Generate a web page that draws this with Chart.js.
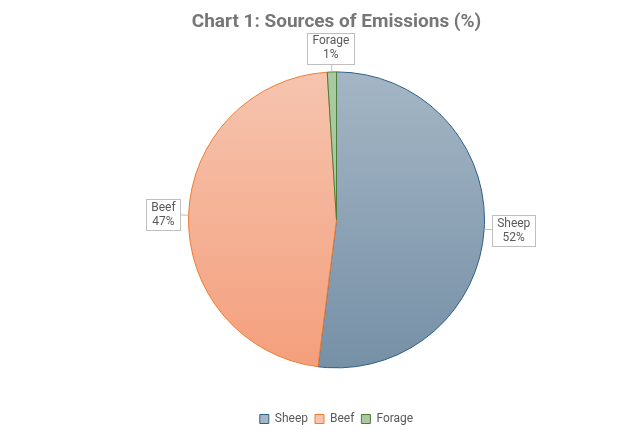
<!DOCTYPE html>
<html>
<head>
<meta charset="utf-8">
<script src="https://cdn.jsdelivr.net/npm/chart.js@4"></script>
<style>
  html, body { margin: 0; padding: 0; background: #fff; }
  #wrap { width: 637px; height: 430px; }
</style>
</head>
<body>
<div id="wrap"><canvas id="pieChart"></canvas></div>
<script>
// data
const categories = ["Sheep", "Beef", "Forage"];
const shares = [52, 47, 1];

const FONT = "Roboto, 'DejaVu Sans', sans-serif";
const PIE_R = 148;
const topColors = ["#a4b6c5", "#f6c4af", "#a9c99f"];
const bottomColors = ["#7690a6", "#f49f7c", "#a9c99f"];
const borderColors = ["#2f5f88", "#ed7d31", "#4a7d3a"];

function sliceFill(ctx) {
  const chart = ctx.chart;
  const area = chart.chartArea;
  if (!area) return topColors[ctx.dataIndex];
  const cy = (area.top + area.bottom) / 2;
  const g = chart.ctx.createLinearGradient(0, cy - PIE_R, 0, cy + PIE_R);
  g.addColorStop(0, topColors[ctx.dataIndex]);
  g.addColorStop(1, bottomColors[ctx.dataIndex]);
  return g;
}

// callout labels drawn next to each slice
const calloutPlugin = {
  id: "callouts",
  afterDatasetsDraw(chart) {
    const c = chart.ctx;
    const meta = chart.getDatasetMeta(0);
    c.save();
    c.font = "12px " + FONT;
    meta.data.forEach((arc, i) => {
      const p = arc.getProps(["x", "y", "startAngle", "endAngle", "outerRadius"], true);
      const mid = (p.startAngle + p.endAngle) / 2;
      const dx = Math.cos(mid), dy = Math.sin(mid);
      const ex = p.x + dx * p.outerRadius, ey = p.y + dy * p.outerRadius;
      const lines = [categories[i], shares[i] + "%"];
      const w = Math.max(...lines.map(t => c.measureText(t).width)) + 10;
      const h = 31;
      const gap = 8;
      const cx = ex + dx * (w / 2 + gap);
      const cy = ey + dy * (h / 2 + gap);
      // leader
      c.strokeStyle = "#bfbfbf";
      c.lineWidth = 1;
      c.beginPath();
      c.moveTo(ex, ey);
      c.lineTo(cx - dx * w / 2, cy - dy * h / 2);
      c.stroke();
      // box
      c.fillStyle = "#fff";
      c.fillRect(cx - w / 2, cy - h / 2, w, h);
      c.strokeRect(Math.round(cx - w / 2) + 0.5, Math.round(cy - h / 2) + 0.5, Math.round(w), h);
      c.fillStyle = "#595959";
      c.textAlign = "center";
      c.textBaseline = "middle";
      c.fillText(lines[0], cx, cy - 7);
      c.fillText(lines[1], cx, cy + 7);
    });
    c.restore();
  }
};

new Chart(document.getElementById("pieChart"), {
  type: "pie",
  data: {
    labels: categories,
    datasets: [{
      data: shares,
      radius: PIE_R,
      backgroundColor: sliceFill,
      borderColor: borderColors,
      borderWidth: 1
    }]
  },
  options: {
    responsive: true,
    maintainAspectRatio: false,
    animation: false,
    layout: { padding: { left: 36, right: 0, top: 9, bottom: -5 } },
    plugins: {
      title: {
        display: true,
        text: "Chart 1: Sources of Emissions (%)",
        color: "#767676",
        font: { family: FONT, size: 19, weight: "bold" },
        padding: { top: 2, bottom: 0 }
      },
      legend: {
        position: "bottom",
        labels: {
          color: "#595959",
          font: { family: FONT, size: 12 },
          boxWidth: 9,
          boxHeight: 9,
          padding: 7,
          generateLabels(chart) {
            return categories.map((name, i) => ({
              text: name,
              fillStyle: topColors[i],
              strokeStyle: borderColors[i],
              lineWidth: 1,
              fontColor: "#595959",
              index: i
            }));
          }
        }
      },
      tooltip: { enabled: false }
    }
  },
  plugins: [calloutPlugin]
});
</script>
</body>
</html>
